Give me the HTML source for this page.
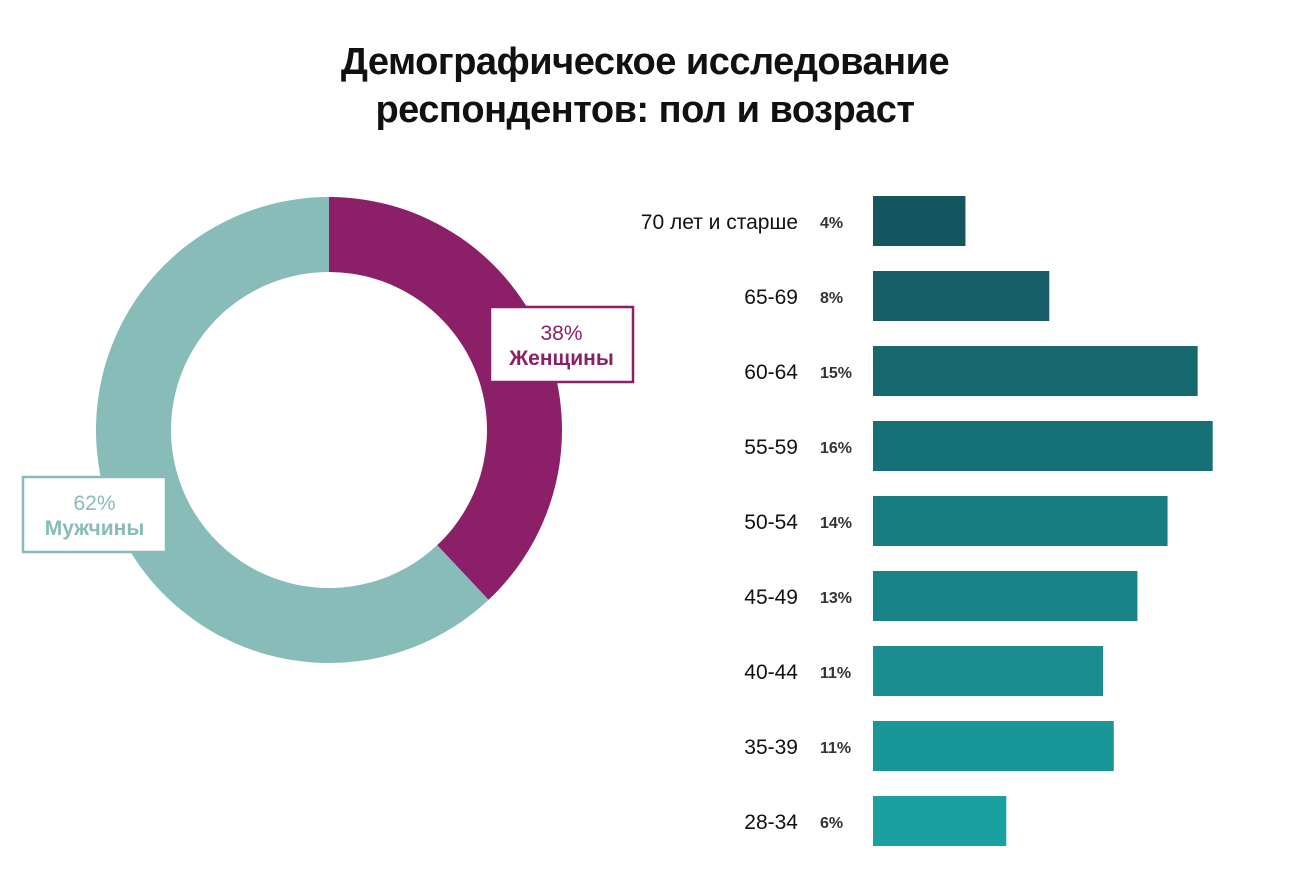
<!DOCTYPE html>
<html><head><meta charset="utf-8"><style>
body{margin:0;background:#fff;font-family:"Liberation Sans",sans-serif}
#root{position:relative;width:1290px;height:878px;overflow:hidden}
.title{position:absolute;left:0;width:1290px;text-align:center;font-weight:bold;font-size:38px;color:#111;line-height:48px;top:38px;letter-spacing:-0.5px}
</style></head><body>
<div id="root">
<div class="title">Демографическое исследование<br>респондентов: пол и возраст</div>
<svg id="svg" width="1290" height="878" style="position:absolute;left:0;top:0"></svg>
</div>
<script>
const genderLabels=["Женщины","Мужчины"];
const genderValues=[38,62];
const ageCats=["70 лет и старше","65-69","60-64","55-59","50-54","45-49","40-44","35-39","28-34"];
const ageValues=[4.3,8.2,15.1,15.8,13.7,12.3,10.7,11.2,6.2];
const ageLabels=["4%","8%","15%","16%","14%","13%","11%","11%","6%"];
const NS="http://www.w3.org/2000/svg";
const svg=document.getElementById('svg');
function mk(t,a,p){const e=document.createElementNS(NS,t);for(const k in a)e.setAttribute(k,a[k]);(p||svg).appendChild(e);return e;}
// donut
const cx=329,cy=430,R=233,r=158;
const gColors=["#8b2068","#87bcb8"];
const total=genderValues.reduce((a,b)=>a+b,0);
let start=0;
function pt(rad,ang){return [cx+rad*Math.sin(ang),cy-rad*Math.cos(ang)];}
genderValues.forEach((v,i)=>{
 const a0=start/total*2*Math.PI,a1=(start+v)/total*2*Math.PI;start+=v;
 const large=(a1-a0)>Math.PI?1:0;
 const [x0,y0]=pt(R,a0),[x1,y1]=pt(R,a1),[x2,y2]=pt(r,a1),[x3,y3]=pt(r,a0);
 const p=mk('path',{d:`M${x0},${y0}A${R},${R} 0 ${large} 1 ${x1},${y1}L${x2},${y2}A${r},${r} 0 ${large} 0 ${x3},${y3}Z`,fill:gColors[i]});
 
 
});
// label boxes
const boxes=[{x:490,y:307,c:"#8b2068"},{x:23,y:477,c:"#87bcb8"}];
genderValues.forEach((v,i)=>{
 const b=boxes[i];
 const g=mk('g',{});
 
 
 mk('rect',{x:b.x,y:b.y,width:143,height:75,fill:'#fff',stroke:b.c,'stroke-width':2.5},g);
 const t1=mk('text',{x:b.x+71.5,y:b.y+33,'text-anchor':'middle','font-size':21,fill:b.c},g);t1.textContent=v+'%';
 const t2=mk('text',{x:b.x+71.5,y:b.y+58,'text-anchor':'middle','font-size':21,'font-weight':'bold',fill:b.c},g);t2.textContent=genderLabels[i];
});
// bars
const x0=873,scale=21.5,top0=196,step=75,bh=50;
const dark=[20,85,95],light=[26,160,160];
ageCats.forEach((c,i)=>{
 const t=i/(ageCats.length-1);
 const col=`rgb(${dark.map((d,k)=>Math.round(d+(light[k]-d)*t)).join(',')})`;
 const y=top0+i*step;
 const b=mk('rect',{x:x0,y:y,width:ageValues[i]*scale,height:bh,fill:col});
 
 
 const l=mk('text',{x:798,y:y+33,'text-anchor':'end','font-size':21,fill:'#111'});
 
 
 l.textContent=c;
 const p=mk('text',{x:820,y:y+32,'font-size':16,'font-weight':'bold',fill:'#333'});
 
 
 p.textContent=ageLabels[i];
});
</script>
</body></html>
